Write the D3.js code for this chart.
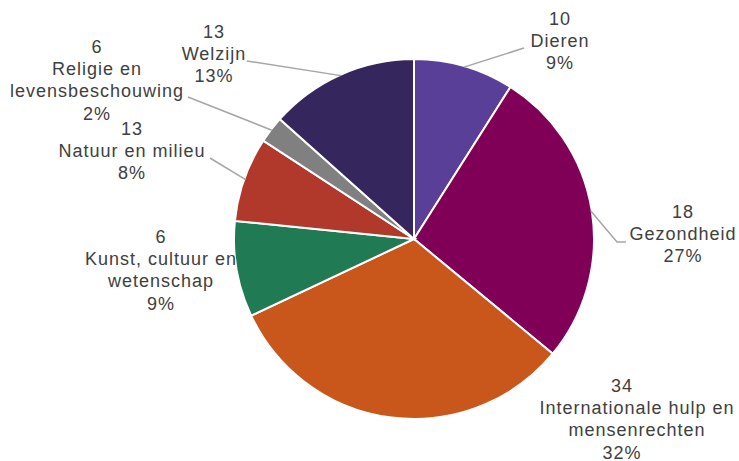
<!DOCTYPE html>
<html>
<head>
<meta charset="utf-8">
<script src="https://cdn.jsdelivr.net/npm/d3@7"></script>
<style>
    body { margin: 0; background: #fff; }
    text { font-family: "Liberation Sans", Arial, sans-serif; font-size: 18px; fill: #404040; letter-spacing: 1px; }
</style>
</head>
<body>
<svg id="chart" width="739" height="461"></svg>
<script>
// Values (clockwise from 12 o'clock)
const categories = ['Dieren', 'Gezondheid', 'Internationale hulp en mensenrechten',
    'Kunst, cultuur en wetenschap', 'Natuur en milieu', 'Religie en levensbeschouwing', 'Welzijn'];
const counts = [10, 18, 34, 6, 13, 6, 13];
const shares = [9.0, 27.0, 32.0, 8.6, 7.6, 2.4, 13.4];
const colors = ['#5a3f99', '#800058', '#c9561a', '#207b54', '#b0392b', '#808080', '#35275d'];

// label layout: where each label block sits and how its name wraps
const labelLayout = [
    {x: 560, y: 25, name: ['Dieren'], leader: [[524, 48]]},
    {x: 683, y: 218, name: ['Gezondheid'], leader: [[617, 242], [626, 242]]},
    {x: 622, nameX: 637, y: 392, name: ['Internationale hulp en', 'mensenrechten'], leader: null},
    {x: 161, y: 243, name: ['Kunst, cultuur en', 'wetenschap'], leader: null},
    {x: 132, y: 135, name: ['Natuur en milieu'], leader: [[210, 158]]},
    {x: 97, y: 53, name: ['Religie en', 'levensbeschouwing'], leader: [[188, 97]]},
    {x: 214, y: 38, name: ['Welzijn'], leader: [[247, 61]]}
];

const svg = d3.select('#chart');
const cx = 414, cy = 239, radius = 180;
const lineH = 22.2;

const data = categories.map((c, i) => ({
    category: c,
    count: counts[i],
    share: shares[i],
    color: colors[i],
    layout: labelLayout[i]
}));

const pie = d3.pie()
    .sort(null)
    .value(d => d.share);

const arc = d3.arc()
    .innerRadius(0)
    .outerRadius(radius);

const g = svg.append('g')
    .attr('transform', `translate(${cx},${cy})`);

const arcs = pie(data);

g.selectAll('.slice')
    .data(arcs)
    .enter().append('path')
    .attr('class', 'slice')
    .attr('d', arc)
    .attr('fill', d => d.data.color)
    .attr('stroke', '#fff')
    .attr('stroke-width', 2);

// Leader lines from the slice edge to the label
const edgeArc = d3.arc().innerRadius(radius - 1).outerRadius(radius - 1);
const pct = d3.format('.0f');

svg.selectAll('.leader')
    .data(arcs.filter(d => d.data.layout.leader))
    .enter().append('polyline')
    .attr('class', 'leader')
    .attr('fill', 'none')
    .attr('stroke', '#a6a6a6')
    .attr('stroke-width', 1.5)
    .attr('points', d => {
        const [ex, ey] = edgeArc.centroid(d);
        const pts = [[cx + ex, cy + ey]].concat(d.data.layout.leader);
        return pts.map(p => p.join(',')).join(' ');
    });

// Labels: count, wrapped name, percentage
arcs.forEach(d => {
    const lay = d.data.layout;
    const lines = [{t: String(d.data.count), x: lay.x}]
        .concat(lay.name.map(n => ({t: n, x: lay.nameX || lay.x})))
        .concat([{t: pct(d.data.share) + '%', x: lay.x}]);
    const t = svg.append('text')
        .attr('text-anchor', 'middle');
    lines.forEach((l, i) => {
        t.append('tspan')
            .attr('x', l.x)
            .attr('y', lay.y + i * lineH)
            .text(l.t);
    });
});
</script>
</body>
</html>
